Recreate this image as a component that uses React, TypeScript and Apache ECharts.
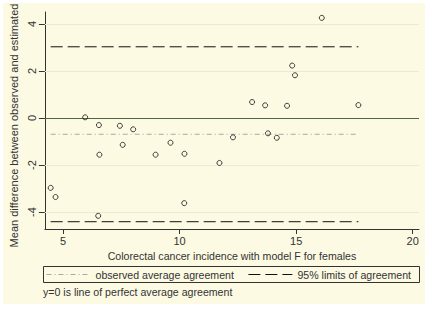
import React, { useEffect, useRef } from "react";
import * as echarts from "echarts";

// Data
const xs = [4.47, 4.68, 5.95, 6.54, 6.56, 6.51, 7.44, 7.56, 8.01, 8.97, 9.61, 10.21, 10.2, 11.71, 12.29, 13.11, 13.67, 13.79, 14.17, 14.61, 14.83, 14.95, 16.1, 17.67];
const ys = [-2.97, -3.36, 0.03, -0.3, -1.56, -4.16, -0.33, -1.14, -0.48, -1.56, -1.05, -1.52, -3.62, -1.91, -0.82, 0.68, 0.54, -0.65, -0.84, 0.52, 2.23, 1.82, 4.26, 0.55];
const meanDiff = -0.69;
const upperLimit = 3.03;
const lowerLimit = -4.41;
const xTicks = [5, 10, 15, 20];
const yTicks = [-4, -2, 0, 2, 4];
const gridValues = [-4, -2, 2, 4];
const xTitle = "Colorectal cancer incidence with model F for females";
const yTitle = "Mean difference between observed and estimated";
const meanName = "observed average agreement";
const limitName = "95% limits of agreement";
const note = "y=0 is line of perfect average agreement";

const FONT = "'Liberation Sans', Arial, sans-serif";
const TXT = "#333333";

export default function App() {
  const ref = useRef<HTMLDivElement>(null);
  useEffect(() => {
    if (!ref.current) return;
    const chart = echarts.init(ref.current, undefined, { renderer: "svg" });
    const xMin = Math.min(...xs);
    const xMax = Math.max(...xs);
    const pts = xs.map((x, i) => [x, ys[i]]);
    const option = {
      animation: false,
      backgroundColor: "#ffffff",
      textStyle: { fontFamily: FONT },
      graphic: [
        {
          type: "rect",
          z: -10,
          silent: true,
          shape: { x: 3, y: 3, width: 422, height: 301 },
          style: { fill: "#FCFAE3" },
        },
        {
          type: "rect",
          silent: true,
          shape: { x: 43.5, y: 266.5, width: 376, height: 16 },
          style: { fill: "none", stroke: "#333333", lineWidth: 1 },
        },
        {
          type: "text",
          x: 43,
          y: 292,
          silent: true,
          style: { text: note, fontSize: 10.6, fill: TXT, verticalAlign: "middle", fontFamily: FONT },
        },
      ],
      grid: { left: 41, top: 12, right: 13, bottom: 83 },
      legend: {
        left: 46,
        top: 269,
        padding: 0,
        itemWidth: 44,
        itemHeight: 12,
        itemGap: 14,
        selectedMode: false,
        itemStyle: { color: "rgba(0,0,0,0)", borderWidth: 0, opacity: 0 },
        lineStyle: { width: 1 },
        data: [meanName, limitName],
        textStyle: { fontSize: 10.6, color: TXT, fontFamily: FONT },
      },
      xAxis: {
        type: "value",
        min: 4.223,
        max: 20.27,
        name: xTitle,
        nameLocation: "middle",
        nameGap: 12,
        nameTextStyle: { fontSize: 10.6, color: TXT, fontFamily: FONT },
        axisLine: { onZero: false, lineStyle: { color: "#333333", width: 1 } },
        axisTick: { customValues: xTicks, length: 5, lineStyle: { color: "#333333" } },
        axisLabel: { customValues: xTicks, fontSize: 11, color: TXT, margin: 6, fontFamily: FONT },
        splitLine: { show: false },
      },
      yAxis: {
        type: "value",
        min: -4.72,
        max: 4.51,
        name: yTitle,
        nameLocation: "middle",
        nameRotate: 90,
        nameGap: 19,
        nameTextStyle: { fontSize: 11, color: TXT, fontFamily: FONT, padding: [0, 10, 0, 0] },
        axisLine: { onZero: false, lineStyle: { color: "#333333", width: 1 } },
        axisTick: { customValues: yTicks, length: 6, lineStyle: { color: "#333333" } },
        axisLabel: { customValues: yTicks, rotate: 90, fontSize: 11, color: TXT, margin: 7, fontFamily: FONT },
        splitLine: { show: false },
      },
      series: [
        {
          type: "line",
          name: meanName,
          data: [
            [xMin, meanDiff],
            [xMax, meanDiff],
          ],
          symbol: "none",
          lineStyle: { color: "#A9A99E", width: 1, type: [5, 3, 1, 3] },
          z: 3,
        },
        {
          type: "line",
          name: limitName,
          data: [
            [xMin, upperLimit],
            [xMax, upperLimit],
          ],
          symbol: "none",
          lineStyle: { color: "#111111", width: 1, type: [12, 5] },
          z: 3,
        },
        {
          type: "line",
          name: limitName,
          data: [
            [xMin, lowerLimit],
            [xMax, lowerLimit],
          ],
          symbol: "none",
          lineStyle: { color: "#111111", width: 1, type: [12, 5] },
          z: 3,
        },
        {
          type: "scatter",
          name: "points",
          data: pts,
          symbol: "circle",
          symbolSize: 5,
          itemStyle: { color: "rgba(0,0,0,0)", borderColor: "#111111", borderWidth: 1 },
          z: 5,
          markLine: {
            silent: true,
            symbol: ["none", "none"],
            label: { show: false },
            data: [
              ...gridValues.map((v) => ({ yAxis: v, lineStyle: { color: "#ECEAD3", width: 1, type: "solid" } })),
              { yAxis: 0, lineStyle: { color: "#55653F", width: 1, type: "solid" } },
            ],
          },
        },
      ],
    };
    chart.setOption(option as any);
    return () => chart.dispose();
  }, []);
  return (
    <div
      style={{ position: "fixed", left: 0, top: 0, width: 432, height: 312, background: "#ffffff" }}
    >
      <div ref={ref} style={{ width: 432, height: 312 }} />
    </div>
  );
}
